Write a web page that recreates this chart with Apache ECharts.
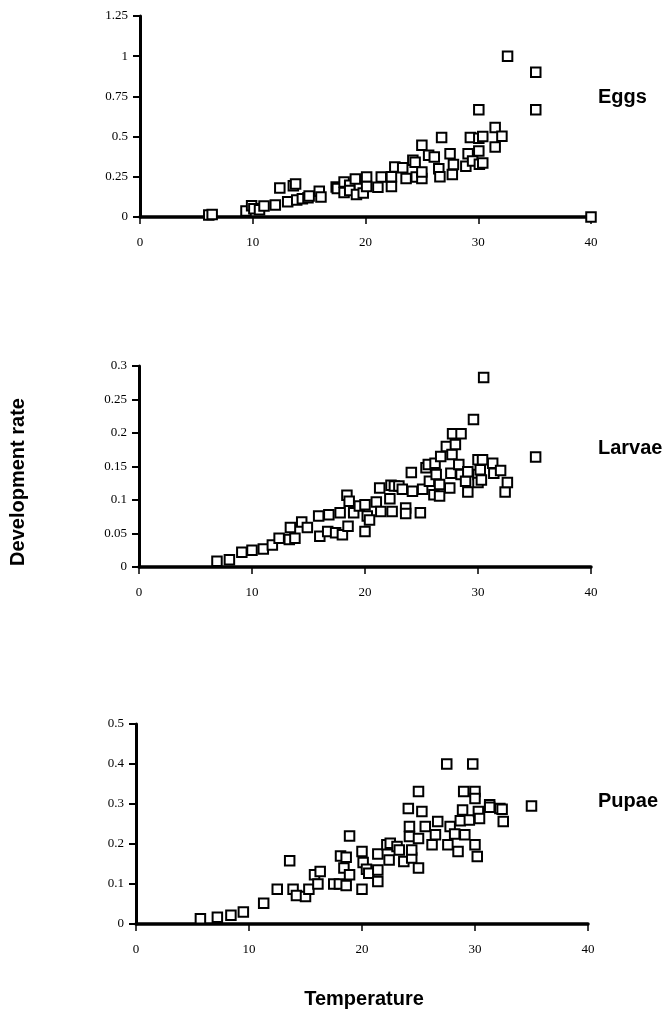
<!DOCTYPE html>
<html>
<head>
<meta charset="utf-8">
<script src="https://cdn.jsdelivr.net/npm/echarts@6/dist/echarts.min.js"></script>
<style>
  html, body { margin: 0; padding: 0; background: #fff; }
  #chart { width: 667px; height: 1010px; }
</style>
</head>
<body>
<div id="chart"></div>
<script>
// Development rate (1/day) against temperature (°C) for each life stage
const eggs = [
  [6.1,0.012],[6.4,0.016],[9.4,0.038],[9.9,0.07],[10.1,0.052],[10.6,0.045],[11.0,0.069],
  [12.0,0.075],[12.4,0.18],[13.1,0.095],[13.6,0.195],[13.8,0.205],[13.9,0.105],[14.4,0.114],
  [14.9,0.12],[15.0,0.13],[15.9,0.16],[16.05,0.125],[17.4,0.187],[17.5,0.178],[18.1,0.218],
  [18.1,0.152],[18.6,0.197],[18.6,0.165],[19.1,0.236],[19.2,0.14],[19.8,0.15],[20.1,0.249],
  [20.1,0.19],[21.1,0.185],[21.4,0.249],[22.3,0.19],[22.3,0.25],[22.6,0.311],[23.3,0.307],
  [23.6,0.239],[24.2,0.353],[24.4,0.34],[24.5,0.249],[25.0,0.239],[25.0,0.28],[25.0,0.446],
  [25.6,0.384],[26.1,0.373],[26.5,0.3],[26.6,0.25],[26.75,0.494],[27.5,0.394],[27.7,0.265],
  [27.8,0.326],[28.9,0.315],[29.1,0.394],[29.3,0.494],[29.5,0.348],[30.05,0.49],[30.05,0.41],
  [30.05,0.667],[30.1,0.328],[30.4,0.336],[30.4,0.5],[31.5,0.556],[31.5,0.436],[32.1,0.502],
  [32.6,1.0],[35.1,0.9],[35.1,0.667],[40,0]
];

const larvae = [
  [6.9,0.0085],[8.0,0.011],[9.1,0.022],[10.0,0.025],[11.0,0.027],[11.8,0.033],[12.4,0.043],
  [13.3,0.041],[13.4,0.059],[13.8,0.043],[14.4,0.067],[14.9,0.059],[15.9,0.076],[16.0,0.046],
  [16.7,0.053],[16.8,0.078],[17.4,0.051],[17.8,0.081],[18.0,0.048],[18.4,0.107],[18.6,0.098],
  [18.5,0.061],[19.0,0.081],[19.5,0.091],[20.0,0.093],[20.0,0.053],[20.2,0.076],[20.4,0.07],
  [21.0,0.097],[21.3,0.118],[21.4,0.083],[22.2,0.102],[22.3,0.122],[22.6,0.121],[22.4,0.083],
  [23.0,0.121],[23.3,0.116],[23.6,0.088],[23.6,0.08],[24.1,0.141],[24.2,0.113],[24.9,0.081],
  [25.1,0.116],[25.4,0.148],[25.6,0.153],[25.7,0.128],[26.1,0.108],[26.2,0.155],[26.3,0.138],
  [26.6,0.123],[26.6,0.106],[26.7,0.165],[27.2,0.18],[27.5,0.118],[27.6,0.14],[27.7,0.168],
  [28.0,0.183],[27.75,0.199],[28.5,0.199],[28.3,0.153],[28.5,0.138],[28.9,0.128],[29.1,0.112],
  [29.1,0.142],[29.6,0.22],[30.0,0.16],[30.0,0.138],[30.0,0.126],[30.2,0.145],[30.3,0.13],
  [30.4,0.16],[30.5,0.283],[31.3,0.155],[31.4,0.14],[32.0,0.144],[32.4,0.112],[32.6,0.126],
  [35.1,0.164]
];

const pupae = [
  [5.7,0.013],[7.2,0.017],[8.4,0.022],[9.5,0.03],[11.3,0.052],[12.5,0.087],[13.6,0.158],
  [13.9,0.087],[14.2,0.071],[15.0,0.069],[15.3,0.087],[15.8,0.123],[16.1,0.1],[16.3,0.131],
  [17.5,0.1],[18.0,0.1],[18.1,0.17],[18.4,0.14],[18.6,0.096],[18.6,0.167],[18.9,0.22],
  [18.9,0.123],[20.0,0.087],[20.0,0.181],[20.1,0.154],[20.4,0.137],[20.6,0.127],[21.4,0.175],
  [21.4,0.106],[21.4,0.135],[22.2,0.198],[22.4,0.16],[22.5,0.202],[23.1,0.194],[23.3,0.185],
  [23.7,0.156],[24.1,0.289],[24.2,0.219],[24.2,0.244],[24.4,0.165],[24.4,0.185],[25.0,0.331],
  [25.0,0.14],[25.0,0.214],[25.3,0.281],[25.6,0.244],[26.2,0.198],[26.5,0.223],[26.7,0.256],
  [27.5,0.4],[27.6,0.198],[27.8,0.244],[28.2,0.225],[28.5,0.181],[28.7,0.258],[28.9,0.285],
  [29.0,0.331],[29.1,0.223],[29.5,0.26],[29.8,0.4],[30.0,0.331],[30.0,0.314],[30.0,0.198],
  [30.2,0.169],[30.3,0.281],[30.4,0.264],[31.3,0.298],[31.3,0.292],[32.2,0.289],[32.4,0.287],
  [32.5,0.256],[35.0,0.295]
];

const stageNames = ['Eggs', 'Larvae', 'Pupae'];
const yMax = [1.25, 0.3, 0.5];
const yStep = [0.25, 0.05, 0.1];
const tempTicks = { min: 0, max: 40, step: 10 };

const serif = 'Liberation Serif, Times New Roman, serif';
const sans = 'Liberation Sans, Arial, Helvetica, sans-serif';

// panel frames
const grids = [
  { left: 140, top: 16, width: 451, height: 201 },
  { left: 139, top: 366, width: 452, height: 201 },
  { left: 136, top: 724, width: 452, height: 200 }
];
const stageLabelTop = [87, 438, 791];

const chart = echarts.init(document.getElementById('chart'), null, { renderer: 'canvas' });

const xAxes = grids.map((g, i) => ({
  gridIndex: i, type: 'value',
  min: tempTicks.min, max: tempTicks.max, interval: tempTicks.step,
  axisLine: { show: true, onZero: false, lineStyle: { color: '#000', width: 3.5 } },
  axisTick: { show: true, length: 7, lineStyle: { color: '#000', width: 1.5 } },
  axisLabel: { margin: 19, fontFamily: serif, fontSize: 13, color: '#000' },
  splitLine: { show: false }
}));

const yAxes = grids.map((g, i) => ({
  gridIndex: i, type: 'value',
  min: 0, max: yMax[i], interval: yStep[i],
  axisLine: { show: true, onZero: false, lineStyle: { color: '#000', width: 3 } },
  axisTick: { show: true, length: 7, lineStyle: { color: '#000', width: 2 } },
  axisLabel: { margin: 12, fontFamily: serif, fontSize: 13, color: '#000' },
  splitLine: { show: false }
}));

const seriesData = [eggs, larvae, pupae];
const series = seriesData.map((d, i) => ({
  name: stageNames[i], type: 'scatter',
  xAxisIndex: i, yAxisIndex: i,
  data: d, clip: false,
  symbol: 'rect', symbolSize: 9.5,
  itemStyle: { color: '#fff', borderColor: '#000', borderWidth: 2, opacity: 1 },
  emphasis: { disabled: true },
  z: 3
}));

const titles = stageNames.map((name, i) => ({
  text: name, left: 598, top: stageLabelTop[i], padding: 0,
  textStyle: { fontFamily: sans, fontWeight: 'bold', fontSize: 20, color: '#000' }
}));

chart.setOption({
  animation: false,
  backgroundColor: '#fff',
  title: titles,
  grid: grids,
  xAxis: xAxes,
  yAxis: yAxes,
  series: series,
  graphic: [
    {
      type: 'text', x: 18, y: 482, rotation: Math.PI / 2,
      style: {
        text: 'Development rate', fontFamily: sans, fontWeight: 'bold', fontSize: 20,
        fill: '#000', align: 'center', verticalAlign: 'middle'
      }
    },
    {
      type: 'text', x: 364, y: 999,
      style: {
        text: 'Temperature', fontFamily: sans, fontWeight: 'bold', fontSize: 20,
        fill: '#000', align: 'center', verticalAlign: 'middle'
      }
    }
  ]
});
</script>
</body>
</html>
